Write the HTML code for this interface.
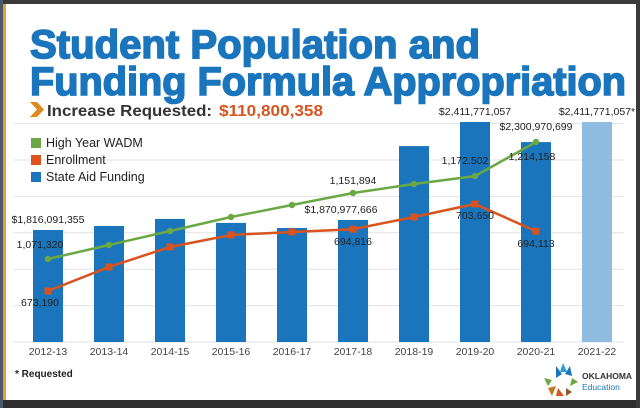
<!DOCTYPE html>
<html><head><meta charset="utf-8"><style>
html,body{margin:0;padding:0;background:#fff;}
svg{display:block;font-family:"Liberation Sans",sans-serif;}
</style></head><body>
<svg id="c" width="640" height="408" viewBox="0 0 640 408">
<rect x="0" y="0" width="640" height="408" fill="#fff"/>
<rect x="0" y="0" width="640" height="4" fill="#3a3a3a"/>
<rect x="0" y="400" width="640" height="8" fill="#2e2e2e"/>
<rect x="0" y="0" width="3" height="408" fill="#4a5a6a"/>
<rect x="3" y="4" width="3" height="396" fill="#e8a033"/>
<rect x="636" y="0" width="4" height="408" fill="#3a3a3a"/>
<text x="30" y="58" font-size="40" font-weight="bold" fill="#1a75bc" stroke="#1a75bc" stroke-width="1.6" textLength="450" lengthAdjust="spacingAndGlyphs">Student Population and</text>
<text x="30" y="95" font-size="40" font-weight="bold" fill="#1a75bc" stroke="#1a75bc" stroke-width="1.6" textLength="596" lengthAdjust="spacingAndGlyphs">Funding Formula Appropriation</text>
<polygon points="30,102 37,102 44,109.5 37,117 30,117 37,109.5" fill="#e08a1e"/>
<text x="47" y="116" font-size="16" font-weight="bold" fill="#333" textLength="165" lengthAdjust="spacingAndGlyphs">Increase Requested:</text>
<text x="219" y="116" font-size="16" font-weight="bold" fill="#d9531e" textLength="104" lengthAdjust="spacingAndGlyphs">$110,800,358</text>
<g id="grid"></g>
<g id="bars"></g>
<g id="lines"></g>
<g id="labels"></g>
<g>
<rect x="31" y="138" width="10" height="10" fill="#6aa843"/>
<text x="46" y="147" font-size="12.5" fill="#222">High Year WADM</text>
<rect x="31" y="155" width="10" height="10" fill="#d9531e"/>
<text x="46" y="164" font-size="12.5" fill="#222">Enrollment</text>
<rect x="31" y="172" width="10" height="10" fill="#1a75bc"/>
<text x="46" y="181" font-size="12.5" fill="#222">State Aid Funding</text>
</g>
<text x="15" y="377" font-size="10" font-weight="bold" fill="#222">* Requested</text>
<g>
<polygon points="556,366 562,374 556,378" fill="#1a75bc"/>
<polygon points="563,363 567,372 560,372" fill="#2a9bd7"/>
<polygon points="570,366 572,376 565,374" fill="#1a75bc"/>
<polygon points="544,378 552,380 548,386" fill="#6aa843"/>
<polygon points="572,378 578,382 570,386" fill="#6aa843"/>
<polygon points="548,388 556,386 552,396" fill="#c5761e"/>
<polygon points="558,388 564,396 556,396" fill="#d9531e"/>
<polygon points="566,388 572,392 566,396" fill="#8a5a2a"/>
<text x="582" y="379" font-size="8.5" font-weight="bold" fill="#333">OKLAHOMA</text>
<text x="582" y="390" font-size="8.5" fill="#1a75bc">Education</text>
</g>
</svg>
<script>
const categories = ["2012-13","2013-14","2014-15","2015-16","2016-17","2017-18","2018-19","2019-20","2020-21","2021-22"];
const funding = [1816091355,1838000000,1877000000,1855000000,1827000000,1870977666,2279000000,2411771057,2300970699,2411771057];
const wadm = [1071320,1088414,1105508,1122600,1137250,1151894,1162900,1172502,1214158];
const enrollment = [673190,681600,688600,692800,693850,694816,699100,703650,694113];
const gridTicks = [0,1,2,3,4,5,6];
const NS="http://www.w3.org/2000/svg";
function mk(t,a,p){const e=document.createElementNS(NS,t);for(const k in a)e.setAttribute(k,a[k]);p.appendChild(e);return e;}
const base=342;
function xPos(i){return 48+i*61;}
function yFund(v){return base-(v-1198000000)/5517000;}
function yW(v){return 259-(v-1071320)/1221;}
function yE(v){return 291-(v-673190)/350;}
const g=document.getElementById('grid');
gridTicks.forEach(t=>{const l=mk('line',{x1:13,x2:624,y1:base-t*36.4,y2:base-t*36.4,stroke:'#e2e2e2','stroke-width':1},g);

});
const b=document.getElementById('bars');
funding.forEach((v,i)=>{const y=yFund(v);
const r=mk('rect',{x:xPos(i)-15,y:y,width:30,height:base-y,fill:i===9?'#8fbde2':'#1a75bc'},b);


const t=mk('text',{x:xPos(i),y:355,'font-size':10.5,fill:'#444','text-anchor':'middle'},b);t.textContent=categories[i];

});
const L=document.getElementById('lines');
function series(arr,fy,col,name,sq){
const pts=arr.map((v,i)=>xPos(i)+','+fy(v)).join(' ');
const pl=mk('polyline',{points:pts,fill:'none',stroke:col,'stroke-width':2.5},L);


arr.forEach((v,i)=>{let m;
if(sq)m=mk('rect',{x:xPos(i)-3.5,y:fy(v)-3.5,width:7,height:7,fill:col},L);
else m=mk('circle',{cx:xPos(i),cy:fy(v),r:3.2,fill:col},L);

});}
series(wadm,yW,'#6aa843','wadm',false);
series(enrollment,yE,'#d9531e','enrollment',true);
const lb=document.getElementById('labels');
function lab(txt,x,y,anchor,sz){const t=mk('text',{x:x,y:y,'font-size':sz||10.5,fill:'#222','text-anchor':anchor||'middle'},lb);t.textContent=txt;

}
function fmt(v){return v.toLocaleString('en-US');}
lab('$'+fmt(funding[0]),48,yFund(funding[0])-7,'middle',10.5);
lab('$'+fmt(funding[5]),xPos(5)-12,yFund(funding[5])-7);
lab('$'+fmt(funding[7]),xPos(7),yFund(funding[7])-7);
lab('$'+fmt(funding[8]),xPos(8),yFund(funding[8])-12);
lab('$'+fmt(funding[9])+'*',xPos(9),yFund(funding[9])-7);
lab(fmt(wadm[0]),40,yW(wadm[0])-11);
lab(fmt(wadm[5]),xPos(5),yW(wadm[5])-9);
lab(fmt(wadm[7]),xPos(7)-10,yW(wadm[7])-12);
lab(fmt(wadm[8]),xPos(8)-4,yW(wadm[8])+18);
lab(fmt(enrollment[0]),40,yE(enrollment[0])+15);
lab(fmt(enrollment[5]),xPos(5),yE(enrollment[5])+16);
lab(fmt(enrollment[7]),xPos(7),yE(enrollment[7])+15);
lab(fmt(enrollment[8]),xPos(8),yE(enrollment[8])+16);
</script>
</body></html>
